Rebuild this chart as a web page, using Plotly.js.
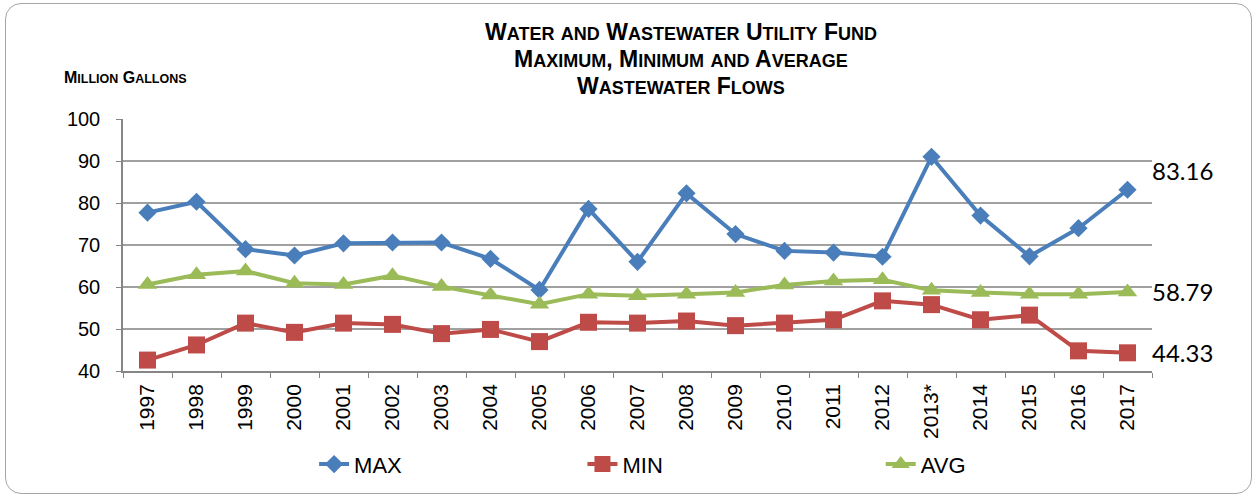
<!DOCTYPE html>
<html>
<head>
<meta charset="utf-8">
<script src="https://cdn.plot.ly/plotly-3.0.1.min.js"></script>
<style>
  body { margin: 0; background: #fff; }
  #frame { position: absolute; left: 5px; top: 3px; width: 1245px; height: 489px; border: 1px solid #a6a6a6; border-radius: 16px; }
  #chart { position: absolute; left: 0; top: 0; width: 1257px; height: 497px; }
</style>
</head>
<body>
<div id="frame"></div>
<div id="chart"></div>
<script>
// Flows by fiscal year, million gallons
const years = ['1997', '1998', '1999', '2000', '2001', '2002', '2003', '2004', '2005', '2006', '2007',
    '2008', '2009', '2010', '2011', '2012', '2013*', '2014', '2015', '2016', '2017'];
const maxFlow = [77.7, 80.3, 69.0, 67.5, 70.4, 70.6, 70.6, 66.7, 59.3, 78.6, 66.0,
    82.3, 72.6, 68.6, 68.2, 67.2, 91.0, 77.0, 67.3, 74.0, 83.16];
const minFlow = [42.6, 46.2, 51.4, 49.2, 51.4, 51.1, 48.9, 49.9, 47.0, 51.6, 51.4,
    51.9, 50.8, 51.4, 52.2, 56.7, 55.8, 52.2, 53.3, 44.8, 44.33];
const avgFlow = [60.6, 62.9, 63.8, 60.9, 60.6, 62.7, 60.1, 58.1, 55.9, 58.3, 57.9,
    58.3, 58.7, 60.5, 61.4, 61.7, 59.2, 58.7, 58.3, 58.3, 58.79];

const arial = 'Liberation Sans, Arial, sans-serif';
const labelFont = { family: 'Lato, sans-serif', size: 24, color: '#000000' };
const last = years.length - 1;

function series(name, y, color, symbol, size, legend) {
    return {
        x: years, y: y, name: name, type: 'scatter', mode: 'lines+markers',
        line: { color: color, width: 4 },
        marker: { symbol: symbol, size: size, color: color },
        legend: legend,
        hoverinfo: 'x+y'
    };
}

// fake small caps: capitals stay big, lower case turns into small capitals
function sc(text, big, small) {
    return text.replace(/([A-Z,]+)|([a-z]+)/g, (m, up, low) =>
        up ? `<span style="font-size:${big}px">${up}</span>` : `<span style="font-size:${small}px">${low.toUpperCase()}</span>`);
}

const titleLines = ['Water and Wastewater Utility Fund', 'Maximum, Minimum and Average', 'Wastewater Flows'];
const titleY = [1.345, 1.238, 1.131];

const annotations = titleLines.map((t, i) => ({
    text: '<b>' + sc(t, 23, 18) + '</b>',
    xref: 'paper', yref: 'paper', x: 0.542, y: titleY[i],
    xanchor: 'center', yanchor: 'middle', showarrow: false,
    font: { family: arial, size: 23, color: '#000000' }
}));
annotations.push({
    text: '<b>' + sc('Million Gallons', 16, 12.5) + '</b>',
    xref: 'paper', yref: 'paper', x: -0.0593, y: 1.163,
    xanchor: 'left', yanchor: 'middle', showarrow: false,
    font: { family: arial, size: 16, color: '#000000' }
});
[[maxFlow, 19], [avgFlow, 1], [minFlow, 0]].forEach(([s, dy]) => {
    annotations.push({
        text: s[last].toFixed(2), xref: 'x', yref: 'y', x: last, y: s[last],
        xanchor: 'left', yanchor: 'middle', xshift: 22, yshift: dy,
        showarrow: false, font: labelFont
    });
});

const legendBase = { orientation: 'h', xanchor: 'left', yanchor: 'middle', y: -0.37,
    font: { family: arial, size: 22, color: '#000000' }, bgcolor: 'rgba(0,0,0,0)' };

Plotly.newPlot('chart',
    [
        series('MAX', maxFlow, '#4a7ebb', 'diamond', 14, 'legend'),
        series('MIN', minFlow, '#be4b48', 'square', 17, 'legend2'),
        series('AVG', avgFlow, '#9bbb59', 'triangle-up', 17, 'legend3')
    ],
    {
        width: 1257,
        height: 497,
        margin: { l: 123, r: 105, t: 119, b: 126 },
        paper_bgcolor: 'rgba(0,0,0,0)',
        plot_bgcolor: '#ffffff',
        font: { family: arial, size: 19, color: '#000000' },
        showlegend: true,
        legend: Object.assign({ x: 0.1857 }, legendBase),
        legend2: Object.assign({ x: 0.4465 }, legendBase),
        legend3: Object.assign({ x: 0.7364 }, legendBase),
        xaxis: {
            type: 'category',
            range: [-0.5, 20.5],
            tickangle: -90,
            tickfont: { family: arial, size: 21, color: '#000000' },
            ticks: 'outside', ticklen: 5, tickcolor: '#868686', tickson: 'boundaries',
            ticklabelstandoff: 3,
            showline: true, linecolor: '#868686', linewidth: 1.5,
            showgrid: false, zeroline: false, fixedrange: true
        },
        yaxis: {
            range: [40, 100], dtick: 10,
            tickfont: { family: arial, size: 20, color: '#000000' },
            ticks: 'outside', ticklen: 5, tickcolor: '#868686', ticklabelstandoff: 12,
            showline: true, linecolor: '#868686', linewidth: 1.5,
            gridcolor: '#a0a0a0', gridwidth: 1.5, zeroline: false, fixedrange: true
        },
        annotations: annotations
    },
    { displayModeBar: false }
);
</script>
</body>
</html>
